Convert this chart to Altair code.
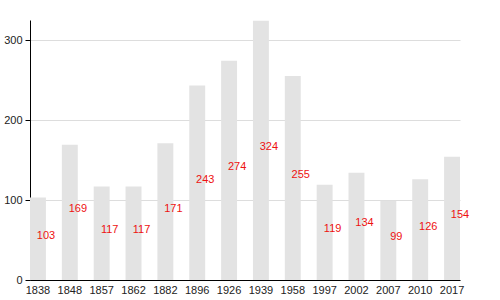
import altair as alt
import pandas as pd

years = ["1838", "1848", "1857", "1862", "1882", "1896", "1926", "1939", "1958",
         "1997", "2002", "2007", "2010", "2017"]
values = [103, 169, 117, 117, 171, 243, 274, 324, 255, 119, 134, 99, 126, 154]

df = pd.DataFrame({"year": years, "pop": values})
df["half"] = df["pop"] / 2

x = alt.X("year:N", sort=None, title=None,
          scale=alt.Scale(paddingInner=0.5, paddingOuter=0),
          axis=alt.Axis(labelAngle=0, ticks=False, domainColor="black",
                        labelFont="Liberation Sans", labelFontSize=11,
                        labelColor="#222", labelPadding=4))

bars = alt.Chart(df).mark_bar(color="#e3e3e3").encode(
    x=x,
    y=alt.Y("pop:Q", title=None,
            scale=alt.Scale(domain=[0, 325], nice=False),
            axis=alt.Axis(values=[0, 100, 200, 300], domainColor="black",
                          tickColor="black", tickSize=5, gridColor="#dddddd",
                          labelFont="Liberation Sans", labelFontSize=11,
                          labelColor="#222", labelPadding=3)),
)

labels = alt.Chart(df).mark_text(color="#ee1111", font="Liberation Sans",
                                 fontSize=11, dx=8, baseline="alphabetic",
                                 dy=0).encode(
    x=x,
    y=alt.Y("half:Q"),
    text="pop:Q",
)

chart = (bars + labels).properties(
    width=430, height=260,
    autosize=alt.AutoSizeParams(type="none"),
    padding={"left": 30, "top": 20, "right": 10, "bottom": 20},
).configure_view(stroke=None).configure_axisY(domainColor="black")

chart.save("out.html", embed_options={"renderer": "svg", "actions": False})
